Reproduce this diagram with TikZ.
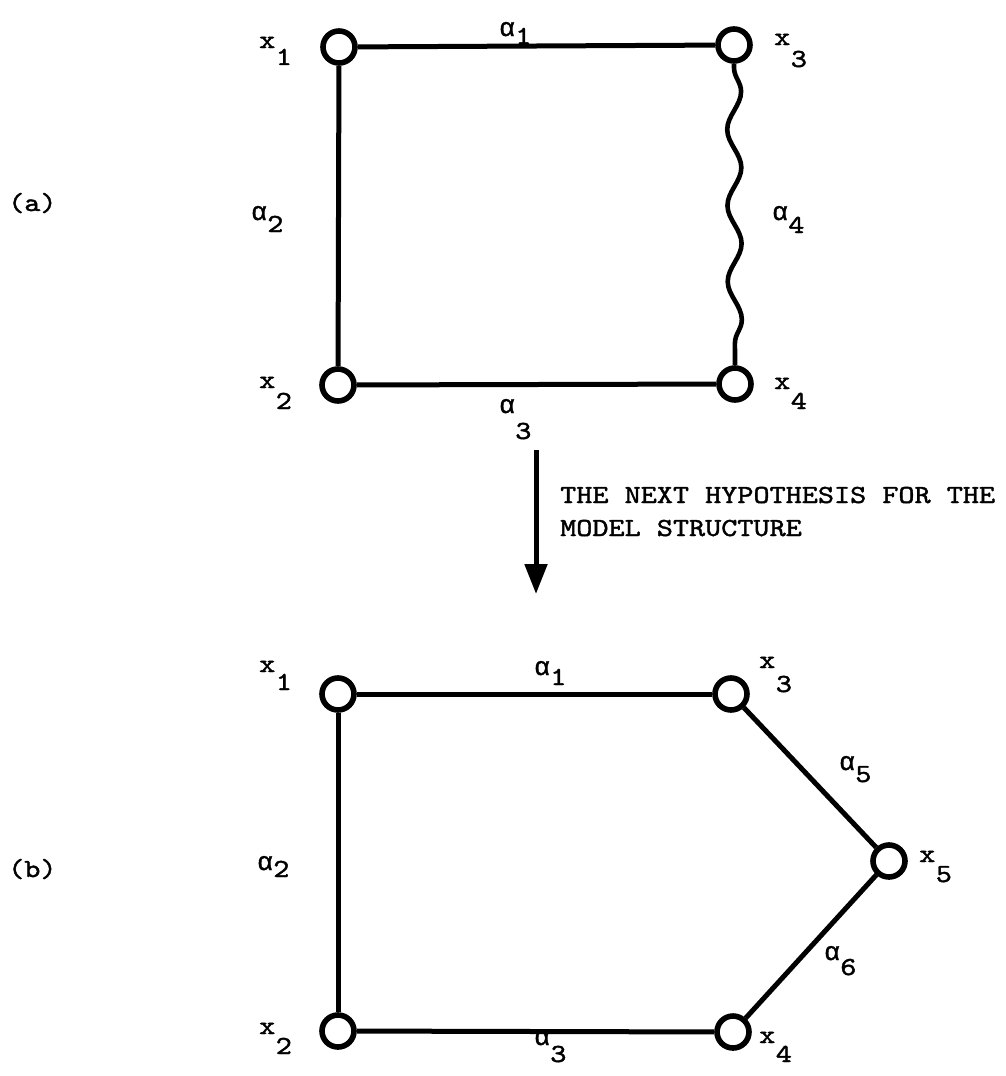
\documentclass[tikz,border=0pt]{standalone}
\usepackage{fontspec}
\setmainfont{Liberation Mono}
\newfontfamily\tw{lmmono10-regular.otf}[FakeBold=1.6,FakeStretch=1.18]
\newfontfamily\gr{Liberation Mono}[FakeBold=1.3]
\usetikzlibrary{arrows.meta,decorations.pathmorphing}
\newcommand\lb[3]{#1\kern0.5pt\raisebox{-#3pt}{\tw #2}}
\newcommand\ax{{\tw x}}
\newcommand\al{{\gr α}}
\begin{document}
\begin{tikzpicture}[x=1pt,y=-1pt,
  vtx/.style={circle,draw,line width=5.6pt,minimum size=32pt,inner sep=0pt,fill=white},
  edge/.style={line width=5pt},
  lbl/.style={anchor=base west,inner sep=0pt,font=\fontsize{26}{30}\selectfont\tw},
  wavy/.style={line width=4.6pt,decorate,decoration={snake,amplitude=7pt,segment length=76pt,pre length=4pt,post length=4pt}}]
\useasboundingbox (0,0) rectangle (1006,1076);
% ---------- (a)
\node[vtx] (a1) at (339,47) {};
\node[vtx] (a3) at (734,45) {};
\node[vtx] (a2) at (338,385) {};
\node[vtx] (a4) at (735,384) {};
\draw[edge] (a1) -- (a3);
\draw[edge] (a1) -- (a2);
\draw[edge] (a2) -- (a4);
\draw[wavy] (a3.south) -- (a4.north);
\node[lbl] (la1) at (259,48) {\lb{\ax}{1}{17}};
\node[lbl] (la3) at (774,45) {\lb{\ax}{3}{22}};
\node[lbl] (la2) at (259,388) {\lb{\ax}{2}{21}};
\node[lbl] (la4) at (774,389) {\lb{\ax}{4}{20}};
\node[lbl] (lal1) at (499,36) {\lb{\al}{1}{8}};
\node[lbl] (lal2) at (251,220) {\lb{\al}{2}{12}};
\node[lbl] (lal4) at (772,220) {\lb{\al}{4}{13}};
\node[lbl] (lal3) at (499,413) {\lb{\al}{3}{26}};
\node[lbl] (ta) at (8,211) {(a)};
% ---------- arrow
\coordinate (arT) at (536,450);
\coordinate (arB) at (536,594);
\draw[line width=5pt,-{Triangle[width=22pt,length=30pt]}] (arT) -- (arB);
\node[lbl] (t1) at (560,503) {THE NEXT HYPOTHESIS FOR THE};
\node[lbl] (t2) at (560,536) {MODEL STRUCTURE};
% ---------- (b)
\node[vtx] (b1) at (338,694) {};
\node[vtx] (b3) at (731,694) {};
\node[vtx] (b5) at (889,861) {};
\node[vtx] (b2) at (338,1031) {};
\node[vtx] (b4) at (733,1032) {};
\draw[edge] (b1) -- (b3);
\draw[edge] (b1) -- (b2);
\draw[edge] (b2) -- (b4);
\draw[edge] (b3) -- (b5);
\draw[edge] (b4) -- (b5);
\node[lbl] (lb1) at (259,672) {\lb{\ax}{1}{18}};
\node[lbl] (lb3) at (759,668) {\lb{\ax}{3}{24}};
\node[lbl] (lb5) at (919,862) {\lb{\ax}{5}{20}};
\node[lbl] (lb2) at (259,1034) {\lb{\ax}{2}{20}};
\node[lbl] (lb4) at (759,1043) {\lb{\ax}{4}{19}};
\node[lbl] (lbl1) at (534,675) {\lb{\al}{1}{10}};
\node[lbl] (lbl5) at (839,770) {\lb{\al}{5}{12}};
\node[lbl] (lbl2) at (257,870) {\lb{\al}{2}{7}};
\node[lbl] (lbl6) at (824,960) {\lb{\al}{6}{15}};
\node[lbl] (lbl3) at (534,1045) {\lb{\al}{3}{17}};
\node[lbl] (tb) at (8,877) {(b)};
\end{tikzpicture}
\end{document}
